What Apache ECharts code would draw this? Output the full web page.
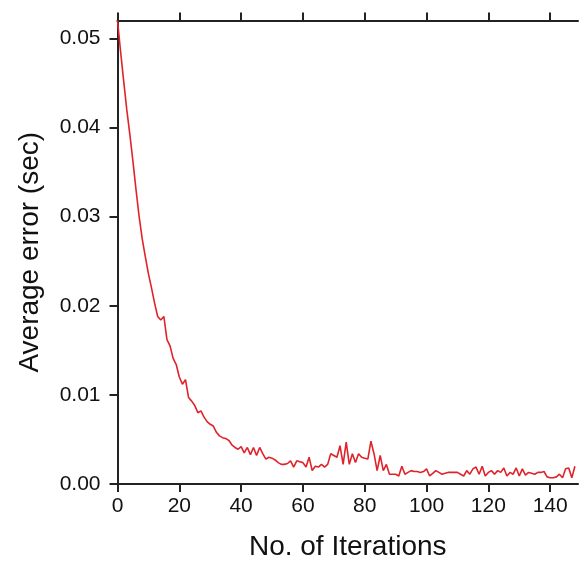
<!DOCTYPE html>
<html>
<head>
<meta charset="utf-8">
<script src="https://cdn.jsdelivr.net/npm/echarts@6/dist/echarts.min.js"></script>
<style>html,body{margin:0;padding:0;background:#fff}#c{width:579px;height:566px}</style>
</head>
<body>
<div id="c"></div>
<script>
const iterations = Array.from({length: 149}, (_, i) => i);
const avgError = [
0.0520,0.0485,0.0452,0.0420,0.0392,0.0362,0.0330,0.0300,0.0275,0.0255,
0.0236,0.0220,0.0203,0.0188,0.0184,0.0188,0.0162,0.0155,0.0141,0.0134,
0.0120,0.0112,0.0117,0.0097,0.0093,0.0088,0.0080,0.0082,0.0075,0.0070,
0.0067,0.0065,0.0058,0.0054,0.0052,0.0051,0.0049,0.0044,0.0041,0.0039,
0.0042,0.0035,0.0041,0.0033,0.0041,0.0032,0.0041,0.0034,0.0028,0.0030,
0.0029,0.0027,0.0024,0.0022,0.0022,0.0023,0.0026,0.0019,0.0026,0.0025,
0.0024,0.0019,0.0030,0.0015,0.0020,0.0019,0.0022,0.0019,0.0022,0.0034,
0.0032,0.0030,0.0043,0.0022,0.0047,0.0022,0.0034,0.0024,0.0034,0.0030,
0.0029,0.0028,0.0048,0.0034,0.0015,0.0032,0.0015,0.0022,0.0011,0.0011,
0.0011,0.0009,0.0020,0.0011,0.0013,0.0015,0.0014,0.0014,0.0013,0.0014,
0.0017,0.0009,0.0012,0.0015,0.0013,0.0011,0.0012,0.0013,0.0013,0.0013,
0.0013,0.0011,0.0009,0.0015,0.0011,0.0017,0.0019,0.0011,0.0020,0.0009,
0.0013,0.0015,0.0011,0.0015,0.0013,0.0018,0.0009,0.0013,0.0011,0.0018,
0.0009,0.0017,0.0010,0.0013,0.0012,0.0011,0.0013,0.0013,0.0014,0.0008,
0.0007,0.0007,0.0008,0.0011,0.0007,0.0017,0.0018,0.0007,0.0020
];
const xTicks = [0,20,40,60,80,100,120,140];
const yTicks = [0.00,0.01,0.02,0.03,0.04,0.05];

const chart = echarts.init(document.getElementById('c'), null, {renderer:'canvas'});
const axisCol = '#222';
const font = 'Liberation Sans, Arial, Helvetica, sans-serif';
chart.setOption({
  animation: false,
  grid: {left: 117.5, top: 20.5, right: 1, bottom: 81},
  xAxis: [{
    type: 'value', min: 0, max: 149, interval: 20, position: 'bottom',
    axisLine: {show: true, onZero: false, lineStyle: {color: axisCol, width: 2}},
    axisTick: {show: true, inside: false, length: 8, lineStyle: {color: axisCol, width: 2},
      customValues: xTicks},
    axisLabel: {color: '#111', fontSize: 21, fontFamily: font, margin: 12,
      customValues: xTicks},
    splitLine: {show: false},
    name: 'No. of Iterations', nameLocation: 'middle', nameGap: 49,
    nameTextStyle: {color: '#111', fontSize: 28, fontFamily: font}
  }, {
    type: 'value', min: 0, max: 149, interval: 20, position: 'top',
    axisLine: {show: true, onZero: false, lineStyle: {color: axisCol, width: 2}},
    axisTick: {show: true, inside: false, length: 8, lineStyle: {color: axisCol, width: 2},
      customValues: xTicks},
    axisLabel: {show: false},
    splitLine: {show: false}
  }],
  yAxis: [{
    type: 'value', min: 0, max: 0.052, interval: 0.01,
    axisLine: {show: true, onZero: false, lineStyle: {color: axisCol, width: 2}},
    axisTick: {show: true, inside: false, length: 8, lineStyle: {color: axisCol, width: 2},
      customValues: yTicks},
    axisLabel: {color: '#111', fontSize: 21, fontFamily: font, margin: 17,
      customValues: yTicks, formatter: v => v.toFixed(2)},
    splitLine: {show: false},
    name: 'Average error (sec)', nameLocation: 'middle', nameGap: 73,
    nameTextStyle: {color: '#111', fontSize: 28, fontFamily: font}
  }],
  series: [{
    type: 'line', xAxisIndex: 0, yAxisIndex: 0,
    data: iterations.map((x, i) => [x, avgError[i]]),
    showSymbol: false, symbol: 'none',
    lineStyle: {color: '#e0232b', width: 1.6},
    clip: true
  }]
});
</script>
</body>
</html>
